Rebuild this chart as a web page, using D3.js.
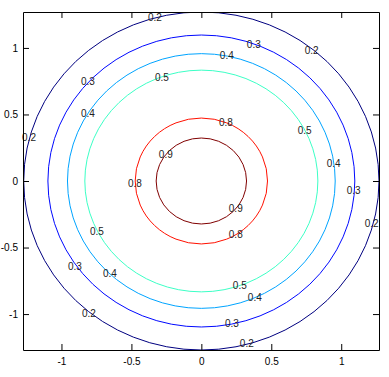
<!DOCTYPE html>
<meta charset="utf-8">
<script src="https://d3js.org/d3.v7.min.js"></script>
<style>
  body { margin: 0; background: white; }
  text { font-family: "Liberation Sans", Arial, sans-serif; }
</style>
<div id="my_dataviz"></div>
<script>
// contour levels, radius of each ring and colours
var levels = [0.2, 0.3, 0.4, 0.5, 0.8, 0.9];
var radii  = [1.27, 1.097, 0.957, 0.833, 0.473, 0.323];
var colors = ["#000080", "#0008ff", "#00a4ff", "#3cffc6", "#ff1000", "#800000"];

// contour labels: level, x, y (data units)
var labelLevel = [0.2, 0.3, 0.2, 0.4, 0.5, 0.3, 0.4, 0.5, 0.8, 0.2, 0.9, 0.4, 0.8,
                  0.3, 0.2, 0.9, 0.8, 0.5, 0.3, 0.4, 0.5, 0.4, 0.2, 0.3, 0.2];
var labelX = [-0.332, 0.375, 0.789, 0.182, -0.282, -0.811, -0.811, 0.739, 0.175, -1.232, -0.254, 0.946, -0.475,
              1.089, 1.218, 0.246, 0.246, -0.746, -0.904, -0.654, 0.275, 0.382, -0.804, 0.218, 0.325];
var labelY = [1.228, 1.026, 0.981, 0.944, 0.779, 0.749, 0.509, 0.382, 0.442, 0.330, 0.202, 0.135, -0.022,
              -0.075, -0.322, -0.210, -0.404, -0.382, -0.644, -0.697, -0.787, -0.876, -0.996, -1.071, -1.221];

var xTicks = [-1, -0.5, 0, 0.5, 1];
var yTicks = [-1, -0.5, 0, 0.5, 1];

var W = 389, H = 377;
var margin = {top: 12, right: 10, bottom: 27, left: 23};

var svg = d3.select("#my_dataviz")
  .append("svg")
    .attr("width", W)
    .attr("height", H);

var x = d3.scaleLinear()
  .domain([-1.275, 1.27])
  .range([margin.left, W - margin.right]);
var y = d3.scaleLinear()
  .domain([-1.27, 1.27])
  .range([H - margin.bottom, margin.top]);

svg.append("clipPath").attr("id", "plotclip")
  .append("rect")
    .attr("x", x.range()[0]).attr("y", y.range()[1])
    .attr("width", x.range()[1] - x.range()[0])
    .attr("height", y.range()[0] - y.range()[1]);

// rings
svg.append("g")
  .attr("clip-path", "url(#plotclip)")
  .selectAll("ellipse")
  .data(levels)
  .enter()
  .append("ellipse")
    .attr("cx", x(0))
    .attr("cy", y(0))
    .attr("rx", function(d, i) { return x(radii[i]) - x(0); })
    .attr("ry", function(d, i) { return y(0) - y(radii[i]); })
    .attr("fill", "none")
    .attr("stroke", function(d, i) { return colors[i]; })
    .attr("stroke-width", 1);

// labels
svg.append("g")
  .selectAll("text")
  .data(labelLevel)
  .enter()
  .append("text")
    .attr("x", function(d, i) { return x(labelX[i]); })
    .attr("y", function(d, i) { return y(labelY[i]); })
    .attr("dy", "0.35em")
    .attr("text-anchor", "middle")
    .attr("font-size", "10px")
    .attr("fill", "#222")
    .text(function(d) { return String(d); });

// axes, ticks pointing inward on all four sides
var fmt = function(d) { return String(d); };
function styleAxis(g) {
  g.select(".domain").attr("stroke", "black");
  g.selectAll(".tick line").attr("stroke", "black");
  g.selectAll(".tick text").attr("fill", "black").attr("font-size", "10px")
    .style("font-family", "'Liberation Sans', Arial, sans-serif");
}
svg.append("g")
  .attr("transform", "translate(0," + y.range()[0] + ")")
  .call(d3.axisBottom(x).tickValues(xTicks).tickFormat(fmt).tickSizeInner(-6).tickSizeOuter(0).tickPadding(8))
  .call(styleAxis);
svg.append("g")
  .attr("transform", "translate(0," + y.range()[1] + ")")
  .call(d3.axisTop(x).tickValues(xTicks).tickFormat("").tickSizeInner(-6).tickSizeOuter(0))
  .call(styleAxis);
svg.append("g")
  .attr("transform", "translate(" + x.range()[0] + ",0)")
  .call(d3.axisLeft(y).tickValues(yTicks).tickFormat(fmt).tickSizeInner(-6).tickSizeOuter(0).tickPadding(5))
  .call(styleAxis);
svg.append("g")
  .attr("transform", "translate(" + x.range()[1] + ",0)")
  .call(d3.axisRight(y).tickValues(yTicks).tickFormat("").tickSizeInner(-6).tickSizeOuter(0))
  .call(styleAxis);
</script>
